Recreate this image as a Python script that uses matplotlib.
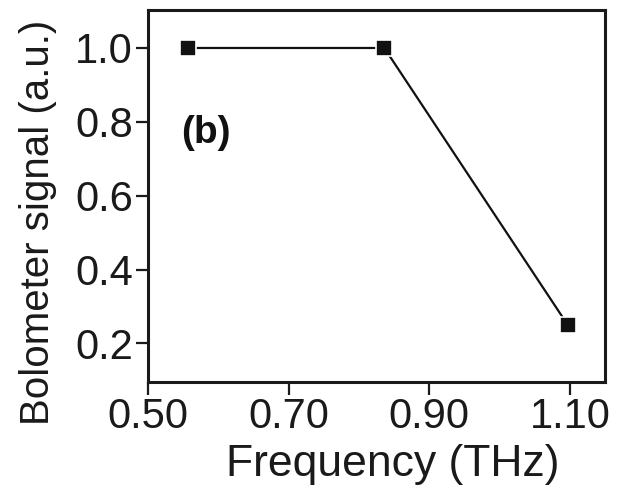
import matplotlib
matplotlib.use('Agg')
from matplotlib import pyplot as plt

frequency = [0.557, 0.836, 1.097]
signal = [1.0, 1.0, 0.25]
x_ticks = [0.50, 0.70, 0.90, 1.10]
y_ticks = [0.2, 0.4, 0.6, 0.8, 1.0]

plt.rcParams['font.family'] = ['Liberation Sans', 'DejaVu Sans']

fig = plt.figure(figsize=(6.25, 4.97), dpi=100)
ax = fig.add_axes([0.237, 0.231, 0.731, 0.749])

ax.plot(frequency, signal, color='#111111', linewidth=1.6,
        marker='s', markersize=11.5, markerfacecolor='#111111',
        markeredgecolor='white', markeredgewidth=1.2)

ax.set_xlim(0.50, 1.15)
ax.set_ylim(0.095, 1.103)
ax.set_xticks(x_ticks)
ax.set_xticklabels(['%.2f' % v for v in x_ticks])
ax.set_yticks(y_ticks)
ax.set_yticklabels(['%.1f' % v for v in y_ticks])

ax.tick_params(axis='both', direction='out', length=9, width=1.6,
               labelsize=30, pad=2, colors='#1a1a1a')
for s in ax.spines.values():
    s.set_linewidth(2.2)
    s.set_color('#1a1a1a')

ax.set_xlabel('Frequency (THz)', fontsize=32, color='#1a1a1a')
ax.xaxis.set_label_coords(0.536, -0.165)
ax.set_ylabel('Bolometer signal (a.u.)', fontsize=29, color='#1a1a1a')
ax.yaxis.set_label_coords(-0.20, 0.43)

ax.text(0.547, 0.77, '(b)', fontsize=28, fontweight='bold',
        ha='left', va='center', color='#111111')

fig.savefig('out.png', dpi=100)
